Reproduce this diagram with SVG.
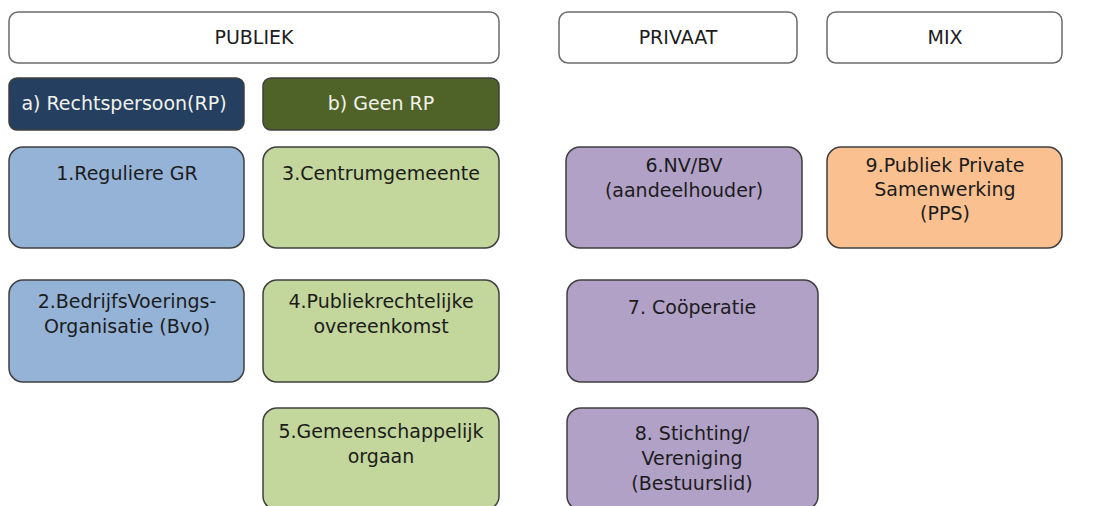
<svg xmlns="http://www.w3.org/2000/svg" width="1095" height="506" viewBox="0 0 1095 506">
<style>
rect{stroke-width:1.5}
.hd{fill:#ffffff;stroke:#6b6b6b}
.bx{stroke:#3f3f3f}
text{font-family:"DejaVu Sans",Verdana,sans-serif;font-size:19px;text-anchor:middle;fill:#1c1c1c}
.lt{fill:#f2f2ea}
.blue{fill:#95b3d7}
.green{fill:#c3d69b}
.purple{fill:#b1a1c6}
.orange{fill:#fac08f}
</style>
<rect width="1095" height="506" fill="#ffffff" stroke="none"/>
<g id="publiek"><rect class="hd" x="9" y="12" width="490" height="51" rx="9"/><text x="254" y="44">PUBLIEK</text></g>
<g id="privaat"><rect class="hd" x="559" y="12" width="238" height="51" rx="9"/><text x="678" y="44">PRIVAAT</text></g>
<g id="mix"><rect class="hd" x="827" y="12" width="235" height="51" rx="9"/><text x="945" y="44">MIX</text></g>
<g id="rp"><rect class="bx" x="9" y="78" width="235" height="52" rx="8" fill="#243f60"/><text class="lt" x="124" y="110">a) Rechtspersoon(RP)</text></g>
<g id="geenrp"><rect class="bx" x="263" y="78" width="236" height="52" rx="8" fill="#4f6228"/><text class="lt" x="381" y="110">b) Geen RP</text></g>
<g id="n1"><rect class="bx blue" x="9" y="147" width="235" height="101" rx="14"/><text x="127" y="180">1.Reguliere GR</text></g>
<g id="n2"><rect class="bx blue" x="9" y="280" width="235" height="102" rx="14"/><text x="127" y="308">2.BedrijfsVoerings-</text><text x="127" y="333">Organisatie (Bvo)</text></g>
<g id="n3"><rect class="bx green" x="263" y="147" width="236" height="101" rx="14"/><text x="381" y="180">3.Centrumgemeente</text></g>
<g id="n4"><rect class="bx green" x="263" y="280" width="236" height="102" rx="14"/><text x="381" y="308">4.Publiekrechtelijke</text><text x="381" y="333">overeenkomst</text></g>
<g id="n5"><rect class="bx green" x="263" y="408" width="236" height="102" rx="14"/><text x="381" y="438">5.Gemeenschappelijk</text><text x="381" y="463">orgaan</text></g>
<g id="n6"><rect class="bx purple" x="566" y="147" width="236" height="101" rx="14"/><text x="684" y="172">6.NV/BV</text><text x="684" y="197">(aandeelhouder)</text></g>
<g id="n7"><rect class="bx purple" x="567" y="280" width="251" height="102" rx="14"/><text x="692" y="314">7. Coöperatie</text></g>
<g id="n8"><rect class="bx purple" x="567" y="408" width="251" height="102" rx="14"/><text x="692" y="440">8. Stichting/</text><text x="692" y="465">Vereniging</text><text x="692" y="490">(Bestuurslid)</text></g>
<g id="n9"><rect class="bx orange" x="827" y="147" width="235" height="101" rx="14"/><text x="945" y="172">9.Publiek Private</text><text x="945" y="196">Samenwerking</text><text x="945" y="220">(PPS)</text></g>
<g id="connectors"></g>
</svg>
